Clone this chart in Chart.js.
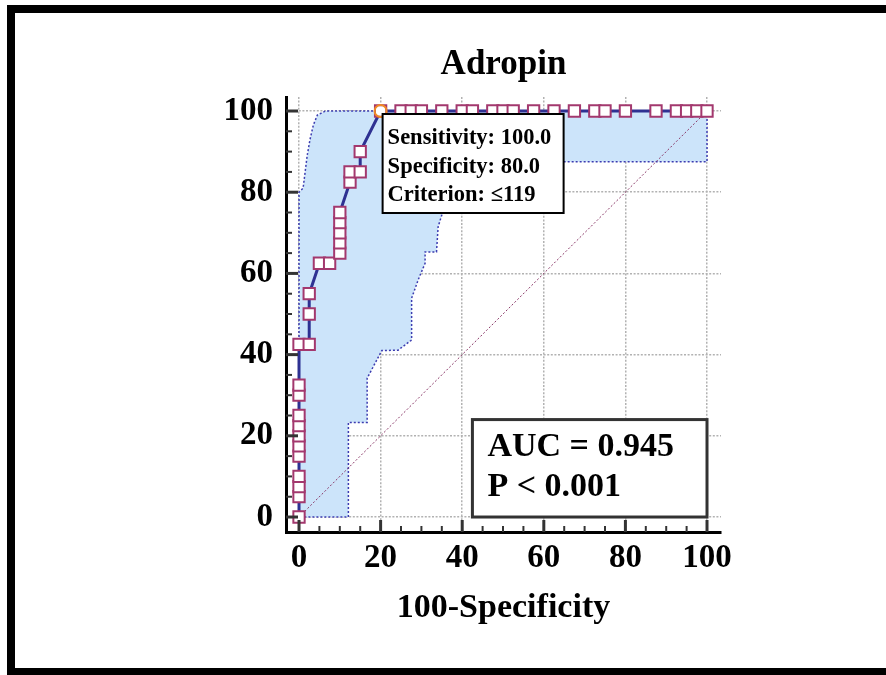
<!DOCTYPE html>
<html>
<head>
<meta charset="utf-8">
<script src="https://cdn.jsdelivr.net/npm/chart.js@4.4.1/dist/chart.umd.min.js"></script>
<style>
  html, body { margin: 0; padding: 0; background: #fff; }
  #wrap { width: 886px; height: 675px; }
</style>
</head>
<body>
<div id="wrap"><canvas id="roc" width="886" height="675"></canvas></div>
<script>
// ROC curve points (100-Specificity, Sensitivity)
const rocFpr = [0, 0, 0, 0, 0, 0, 0, 0, 0, 0, 0, 0,
    2.5, 2.5, 2.5, 5, 7.5, 10, 10, 10, 10, 10, 12.5, 12.5, 15, 15, 20,
    25, 27.5, 30, 35, 40, 42.5, 47.5, 50, 52.5, 57.5, 62.5, 67.5, 72.5, 75, 80, 87.5, 92.5, 95, 97.5, 100];
const rocSens = [0, 5, 7.5, 10, 15, 17.5, 20, 22.5, 25, 30, 32.5, 42.5,
    42.5, 50, 55, 62.5, 62.5, 65, 67.5, 70, 72.5, 75, 82.5, 85, 85, 90, 100,
    100, 100, 100, 100, 100, 100, 100, 100, 100, 100, 100, 100, 100, 100, 100, 100, 100, 100, 100, 100];

// 95% confidence band outline (closed polygon)
const bandX = [0, 0, 1, 1.5, 2, 2.7, 3.5, 4.5, 6.5, 100, 100, 42, 40, 38, 36, 35, 34.1, 33.7, 30.9, 30.9,
    29.2, 27.6, 27.6, 24.3, 20.3, 16.7, 16.7, 12.1, 12.1, 0];
const bandY = [0, 80, 81, 85, 89, 93, 96.5, 99, 100, 100, 87.5, 87.5, 85, 82, 78, 74.4, 71.5, 65.3, 65.3, 62.5,
    58.4, 53.9, 43.6, 41.1, 41, 34.2, 23.3, 23.3, 0, 0];

// chance line
const diagX = [0, 100];
const diagY = [0, 100];

// optimal criterion
const bestPoint = { x: 20, y: 100 };

const tickValues = [0, 20, 40, 60, 80, 100];
const infoLines = ['Sensitivity: 100.0', 'Specificity: 80.0', 'Criterion: \u2264119'];
const statLines = ['AUC = 0.945', 'P < 0.001'];

const SERIF = '"Liberation Serif", "Times New Roman", Times, serif';

function toPoints(xs, ys) {
    return xs.map((v, i) => ({ x: v, y: ys[i] }));
}

// white page plus the black frame
const frame = {
    id: 'frame',
    beforeDraw(chart) {
        const ctx = chart.ctx;
        ctx.save();
        ctx.fillStyle = '#fff';
        ctx.fillRect(0, 0, chart.width, chart.height);
        ctx.fillStyle = '#000';
        ctx.fillRect(7, 5, chart.width - 7, 8);
        ctx.fillRect(7, 5, 8, chart.height - 5);
        ctx.fillRect(7, chart.height - 7, chart.width - 7, 7);
        ctx.restore();
    }
};

// major / minor tick marks pointing into the plot
const tickMarks = {
    id: 'tickMarks',
    afterDraw(chart) {
        const { ctx, chartArea, scales: { x, y } } = chart;
        ctx.save();
        ctx.strokeStyle = '#333';
        for (let v = 0; v <= 100; v += 5) {
            const major = v % 20 === 0;
            const len = major ? 12 : 6;
            ctx.lineWidth = major ? 3 : 2;
            const px = x.getPixelForValue(v);
            ctx.beginPath();
            ctx.moveTo(px, chartArea.bottom);
            ctx.lineTo(px, chartArea.bottom - len);
            ctx.stroke();
            const py = y.getPixelForValue(v);
            ctx.beginPath();
            ctx.moveTo(chartArea.left, py);
            ctx.lineTo(chartArea.left + len, py);
            ctx.stroke();
        }
        ctx.restore();
    }
};

// text boxes
const boxes = {
    id: 'boxes',
    afterDatasetsDraw(chart) {
        const { ctx, scales: { x, y } } = chart;
        ctx.save();

        // criterion box, anchored at the optimal point
        const bx = x.getPixelForValue(bestPoint.x) + 2;
        const by = y.getPixelForValue(bestPoint.y) + 3;
        ctx.fillStyle = '#fff';
        ctx.fillRect(bx, by, 181, 99);
        ctx.strokeStyle = '#000';
        ctx.lineWidth = 2;
        ctx.strokeRect(bx, by, 181, 99);
        ctx.fillStyle = '#000';
        ctx.font = 'bold 22.5px ' + SERIF;
        ctx.textBaseline = 'alphabetic';
        infoLines.forEach((t, i) => ctx.fillText(t, bx + 5, by + 30 + i * 28.5));

        // AUC box
        const ax = x.getPixelForValue(42.5);
        const ay = y.getPixelForValue(24);
        const aw = x.getPixelForValue(100) - ax;
        const ah = y.getPixelForValue(0) - ay;
        ctx.fillStyle = '#fff';
        ctx.fillRect(ax, ay, aw, ah);
        ctx.strokeStyle = '#333';
        ctx.lineWidth = 3;
        ctx.strokeRect(ax, ay, aw, ah);
        ctx.fillStyle = '#000';
        ctx.font = 'bold 34px ' + SERIF;
        statLines.forEach((t, i) => ctx.fillText(t, ax + 15, ay + 36 + i * 40));

        ctx.restore();
    }
};

const gridDash = [2, 1.6];

const ctx = document.getElementById('roc').getContext('2d');
new Chart(ctx, {
    type: 'scatter',
    data: {
        datasets: [
            {
                label: 'criterion',
                order: 1,
                data: [bestPoint],
                pointStyle: 'circle',
                pointRadius: 6,
                pointBorderWidth: 2,
                pointBorderColor: '#f08a24',
                pointBackgroundColor: 'rgba(255,255,255,0)'
            },
            {
                label: 'ROC',
                order: 2,
                data: toPoints(rocFpr, rocSens),
                showLine: true,
                borderColor: '#2e3192',
                borderWidth: 3,
                tension: 0,
                pointStyle: 'rect',
                pointRadius: 8,
                pointBorderWidth: 2,
                pointBorderColor: '#a3386e',
                pointBackgroundColor: '#fff'
            },
            {
                label: 'chance',
                order: 3,
                data: toPoints(diagX, diagY),
                showLine: true,
                borderColor: '#8a3868',
                borderWidth: 1,
                borderDash: [2, 2],
                pointRadius: 0
            },
            {
                label: 'band',
                order: 4,
                data: toPoints(bandX, bandY),
                showLine: true,
                fill: 'shape',
                backgroundColor: '#cce4fa',
                borderColor: '#3c3cb0',
                borderWidth: 1.5,
                borderDash: [2, 2],
                pointRadius: 0,
                tension: 0
            }
        ]
    },
    options: {
        responsive: false,
        animation: false,
        layout: { padding: { left: 0, right: 165, top: 0, bottom: 0 } },
        plugins: {
            legend: { display: false },
            tooltip: { enabled: false },
            title: {
                display: true,
                text: 'Adropin',
                fullSize: false,
                color: '#000',
                font: { family: SERIF, size: 35, weight: 'bold', lineHeight: 1.2 },
                padding: { top: 44, bottom: 11 }
            }
        },
        scales: {
            x: {
                type: 'linear',
                min: -3.19,
                max: 103.43,
                afterBuildTicks: s => { s.ticks = tickValues.map(v => ({ value: v })); },
                afterFit: s => { s.height = 143; },
                grid: {
                    color: '#b2b2b2',
                    lineWidth: 1.5,
                    drawTicks: false
                },
                border: { display: true, color: '#000', width: 3, dash: gridDash },
                ticks: {
                    color: '#000',
                    padding: 7,
                    maxRotation: 0,
                    font: { family: SERIF, size: 33, weight: 'bold' }
                },
                title: {
                    display: true,
                    text: '100-Specificity',
                    color: '#000',
                    font: { family: SERIF, size: 34, weight: 'bold', lineHeight: 1.2 },
                    padding: { top: 0, bottom: 46 }
                }
            },
            y: {
                type: 'linear',
                min: -3.69,
                max: 103.45,
                afterBuildTicks: s => { s.ticks = tickValues.map(v => ({ value: v })); },
                afterFit: s => { s.width = 286; },
                grid: {
                    color: '#b2b2b2',
                    lineWidth: 1.5,
                    drawTicks: false
                },
                border: { display: true, color: '#000', width: 3, dash: gridDash },
                ticks: {
                    color: '#000',
                    padding: 13,
                    font: { family: SERIF, size: 33, weight: 'bold' }
                }
            }
        }
    },
    plugins: [frame, tickMarks, boxes]
});
</script>
</body>
</html>
